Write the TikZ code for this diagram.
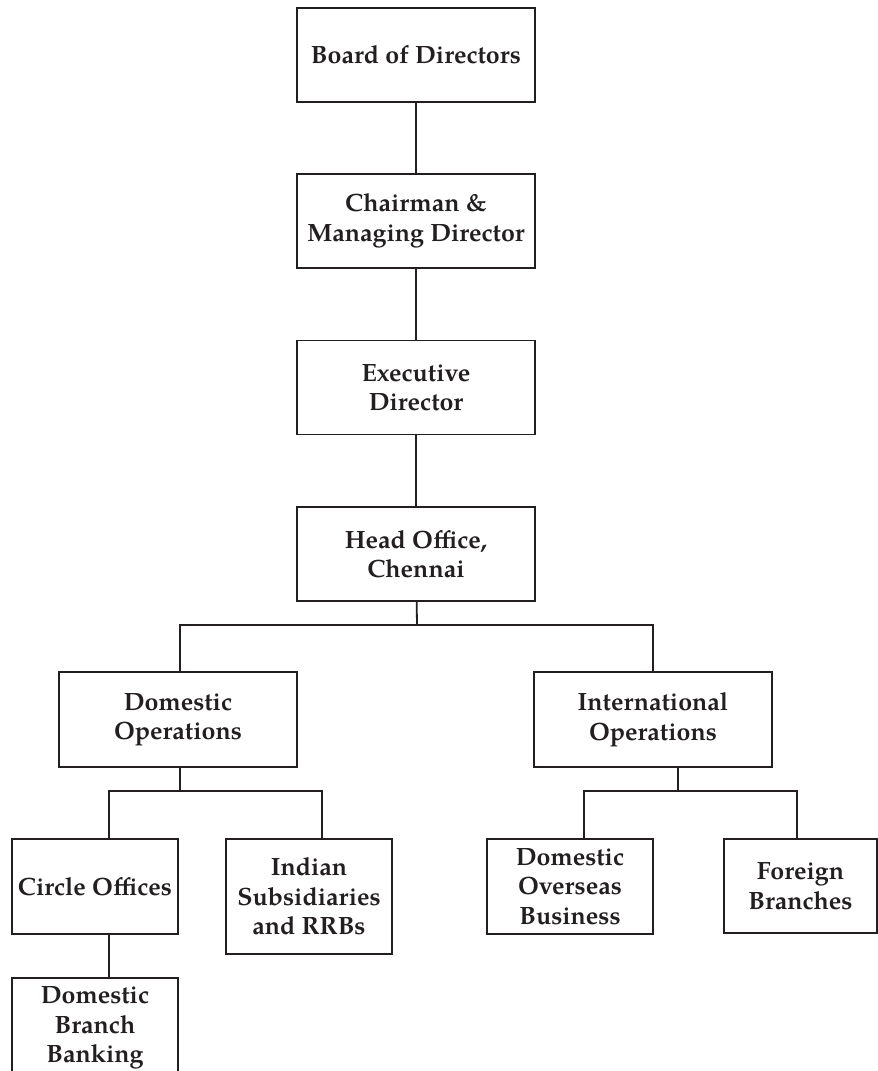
\documentclass[tikz,border=0pt]{standalone}
\usepackage{fontspec}
\setmainfont{TeX Gyre Pagella}
\definecolor{ink}{HTML}{231F20}
\begin{document}
\begin{tikzpicture}[x=1pt,y=-1pt,
  box/.style={draw=ink, line width=1.8pt, inner sep=0pt, align=center,
    font=\fontsize{25}{29.5}\selectfont\bfseries, text=ink},
  bigbox/.style={box, minimum width=238pt, minimum height=94pt},
  smallbox/.style={box, minimum width=166pt, minimum height=95pt},
  link/.style={draw=ink, line width=1.8pt}]
\useasboundingbox (0,0) rectangle (878,1071);
\clip (0,0) rectangle (878,1071);
\node[bigbox] (board) at (416,55) {Board of Directors};
\node[bigbox] (chair) at (416,221) {Chairman \&\\Managing Director};
\node[bigbox] (exec) at (416,387.5) {Executive\\Director};
\node[bigbox] (head) at (416,554) {Head Office,\\Chennai};
\node[bigbox, minimum height=95pt] (dom) at (178,719.5) {Domestic\\Operations};
\node[bigbox, minimum height=95pt] (intl) at (653,719.5) {International\\Operations};
\node[smallbox] (circ) at (95,886.5) {Circle Offices};
\node[smallbox, minimum height=115pt] (ind) at (309,896.5) {Indian\\Subsidiaries\\and RRBs};
\node[smallbox] (dob) at (570,886.5) {Domestic\\Overseas\\Business};
\node[smallbox, minimum width=153pt, minimum height=94pt] (for) at (800.5,886) {Foreign\\Branches};
\node[smallbox, minimum height=100pt] (dbb) at (95,1028) {Domestic\\Branch\\Banking};
\coordinate (j1) at (417,625);
\coordinate (b1) at (109,791);
\coordinate (b2) at (322,791);
\coordinate (b0) at (180,791);
\coordinate (i0) at (678,791);
\coordinate (i1) at (584,791);
\coordinate (i2) at (797,791);
\path[link] (board) -- (chair);
\path[link] (chair) -- (exec);
\path[link] (exec) -- (head);
\path[link] (head) -- (j1);
\path[link] (b0 |- dom.north) |- (j1) -| (intl.north);
\path[link] (b0 |- dom.south) -- (b0);
\path[link] (b1 |- circ.north) -- (b1) -- (b2) -- (b2 |- ind.north);
\path[link] (i0 |- intl.south) -- (i0);
\path[link] (i1 |- dob.north) -- (i1) -- (i2) -- (i2 |- for.north);
\path[link] (b1 |- circ.south) -- (b1 |- dbb.north);
\end{tikzpicture}
\end{document}
